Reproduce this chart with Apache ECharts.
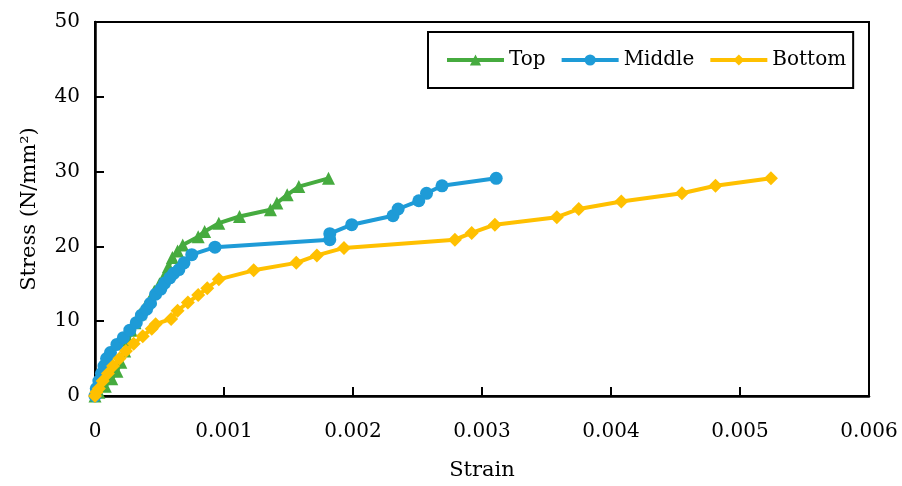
<!DOCTYPE html>
<html>
<head>
<meta charset="utf-8">
<script src="https://cdn.jsdelivr.net/npm/echarts@6/dist/echarts.min.js"></script>
<style>
  html, body { margin: 0; padding: 0; background: #fff; }
  #chart { width: 902px; height: 486px; }
</style>
</head>
<body>
<div id="chart"></div>
<script>
// Stress-strain readings at three positions: [strain, stress (N/mm²)]
const topData = [
  [0, 0], [0.00003, 0.5], [0.00008, 1.3], [0.00013, 2.3], [0.00017, 3.3],
  [0.0002, 4.5], [0.00023, 6], [0.00026, 7.5], [0.00028, 8.8], [0.00031, 9.8],
  [0.00035, 11], [0.00039, 12], [0.00043, 13], [0.00046, 14], [0.0005, 15],
  [0.00053, 15.8], [0.00057, 17.3], [0.0006, 18.5], [0.00064, 19.4], [0.00068, 20.2],
  [0.0008, 21.3], [0.00085, 22], [0.00096, 23.1], [0.00112, 24], [0.00136, 24.9],
  [0.00141, 25.8], [0.00149, 26.9], [0.00158, 28], [0.00181, 29.1]
];
const middleData = [
  [0, 0], [0.00001, 1], [0.00003, 2], [0.00005, 3], [0.00007, 4],
  [0.00009, 5], [0.00012, 5.8], [0.00017, 6.9], [0.00022, 7.8], [0.00027, 8.8],
  [0.00032, 9.8], [0.00036, 10.8], [0.0004, 11.6], [0.00043, 12.4], [0.00047, 13.6],
  [0.00051, 14.3], [0.00054, 15.1], [0.00058, 15.8], [0.00061, 16.4], [0.00065, 16.9],
  [0.00069, 17.8], [0.00075, 18.9], [0.00093, 19.9], [0.00182, 20.9], [0.00182, 21.7],
  [0.00199, 22.9], [0.00231, 24.1], [0.00235, 25], [0.00251, 26.1], [0.00257, 27.1],
  [0.00269, 28.1], [0.00311, 29.1]
];
const bottomData = [
  [0, 0], [0.00001, 0.5], [0.00003, 1], [0.00006, 2], [0.0001, 3],
  [0.00014, 4], [0.00019, 5], [0.00024, 6], [0.0003, 7], [0.00037, 8],
  [0.00044, 9], [0.00047, 9.6], [0.00059, 10.3], [0.00064, 11.4], [0.00072, 12.5],
  [0.0008, 13.5], [0.00087, 14.4], [0.00096, 15.6], [0.00123, 16.8], [0.00156, 17.8],
  [0.00172, 18.8], [0.00193, 19.8], [0.00279, 20.9], [0.00292, 21.8], [0.0031, 22.9],
  [0.00358, 23.9], [0.00375, 25], [0.00408, 26], [0.00455, 27.1], [0.00481, 28.1],
  [0.00524, 29.1]
];
const seriesNames = ['Top', 'Middle', 'Bottom'];
const xTicks = [0, 0.001, 0.002, 0.003, 0.004, 0.005, 0.006];
const yTicks = [0, 10, 20, 30, 40, 50];

const textFont = 'DejaVu Serif';
const colors = ['#46AB3F', '#1E9BD7', '#FFC000'];
const symbols = ['triangle', 'circle', 'diamond'];
const sizes = [13, 13, 14];
const datasets = [topData, middleData, bottomData];

const chart = echarts.init(document.getElementById('chart'), null, { renderer: 'canvas' });

chart.setOption({
  animation: false,
  backgroundColor: '#fff',
  color: colors,
  grid: {
    left: 95, right: 33, top: 22, bottom: 89,
    show: true, borderColor: '#000', borderWidth: 2
  },
  legend: {
    data: seriesNames,
    left: 428, top: 32,
    orient: 'horizontal',
    borderColor: '#000', borderWidth: 2,
    padding: [18, 7, 18, 17],
    itemWidth: 57, itemHeight: 14, itemGap: 14,
    lineStyle: { width: 4 },
    textStyle: { fontFamily: textFont, fontSize: 20, color: '#000' }
  },
  xAxis: {
    type: 'value',
    min: xTicks[0], max: xTicks[xTicks.length - 1], interval: 0.001,
    name: 'Strain', nameLocation: 'middle', nameGap: 64,
    nameTextStyle: { fontFamily: textFont, fontSize: 21, color: '#000' },
    axisLine: { lineStyle: { color: '#000', width: 2.5 } },
    axisTick: { inside: true, length: 9, lineStyle: { color: '#000', width: 2 } },
    axisLabel: {
      fontFamily: textFont, fontSize: 20, color: '#000', margin: 26,
      formatter: v => (v === 0 ? '0' : v.toFixed(3))
    },
    splitLine: { show: false }
  },
  yAxis: {
    type: 'value',
    min: yTicks[0], max: yTicks[yTicks.length - 1], interval: 10,
    name: 'Stress (N/mm²)', nameLocation: 'middle', nameGap: 55,
    nameTextStyle: { fontFamily: textFont, fontSize: 21, color: '#000' },
    axisLine: { lineStyle: { color: '#000', width: 2.5 } },
    axisTick: { inside: true, length: 9, lineStyle: { color: '#000', width: 2 } },
    axisLabel: { fontFamily: textFont, fontSize: 20, color: '#000', margin: 15 },
    splitLine: { show: false }
  },
  series: seriesNames.map((name, i) => ({
    name,
    type: 'line',
    data: datasets[i],
    symbol: symbols[i],
    symbolSize: sizes[i],
    showAllSymbol: true,
    lineStyle: { width: 4, color: colors[i] },
    itemStyle: { color: colors[i] },
    z: 2 + i
  }))
});
</script>
</body>
</html>
